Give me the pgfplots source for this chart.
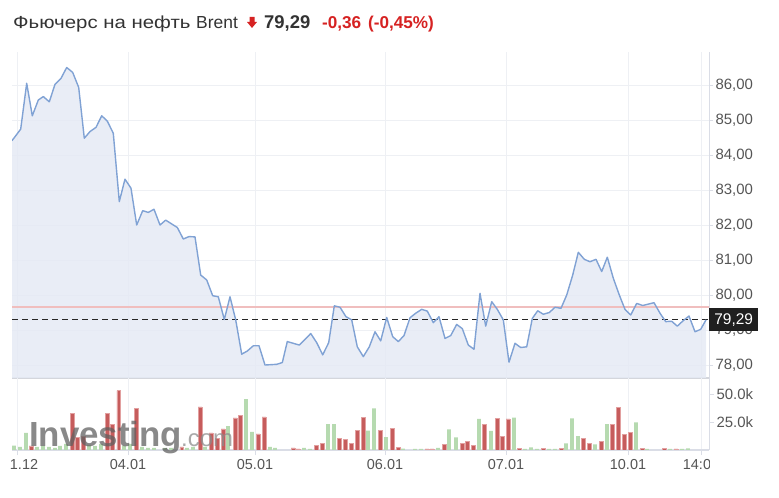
\documentclass[border=0pt]{standalone}
\usepackage{pgfplots}
\pgfplotsset{compat=1.18}
\usepackage{fontspec}
\setmainfont{Liberation Sans}

\definecolor{linec}{RGB}{128,162,212}
\definecolor{areac}{RGB}{229,234,245}
\definecolor{gridc}{RGB}{238,240,244}
\definecolor{axc}{RGB}{218,221,230}
\definecolor{bordc}{RGB}{212,214,220}
\definecolor{labc}{RGB}{85,85,85}
\definecolor{titlec}{RGB}{51,51,51}
\definecolor{redt}{RGB}{214,34,34}
\definecolor{prevc}{RGB}{240,190,190}
\definecolor{volred}{RGB}{198,92,92}
\definecolor{volredb}{RGB}{226,160,160}
\definecolor{volgreen}{RGB}{182,218,176}

\pgfplotstableread{
x y
12 84.41
20.7 84.74
26.7 86.05
32.3 85.12
38.3 85.57
43.3 85.67
49.3 85.52
55 86.02
61 86.19
66.7 86.50
72.7 86.36
78.7 85.93
84.3 84.48
90 84.67
96 84.79
101.7 85.12
107.3 84.97
113.3 84.62
119.3 82.67
125 83.31
131 83.05
136.7 82.00
142.7 82.41
148.3 82.36
154 82.45
160 82.00
165.7 82.14
171.7 82.03
177.3 81.93
183.3 81.60
189 81.67
195 81.66
200.7 80.57
206.7 80.43
212.7 79.98
218.3 79.95
224.3 79.30
230 79.95
235.7 79.29
241.7 78.31
247.3 78.40
253.3 78.55
259 78.55
265 78.00
271 78.01
276.7 78.02
282.3 78.07
287.3 78.67
293.3 78.62
299.3 78.57
305 78.73
310.7 78.90
316.7 78.64
322.7 78.29
328.7 78.64
334.3 79.69
340 79.65
346 79.38
351.7 79.29
357.3 78.52
363.3 78.24
369.3 78.52
375 78.95
380.7 78.69
386.7 79.36
392.7 78.81
398.3 78.67
404 78.84
410 79.35
415.7 79.48
421.7 79.59
427.3 79.54
433.3 79.21
439 79.38
445 78.76
450.7 78.84
456.7 79.16
462.3 79.04
468.3 78.57
474 78.45
480 80.05
485.7 79.11
491.7 79.81
497.3 79.59
503.3 79.29
509 78.08
515 78.62
520.7 78.50
526.7 78.52
532.3 79.33
537.7 79.55
543.3 79.45
549.3 79.50
555 79.65
561 79.62
566.7 80.00
572.7 80.57
578.3 81.22
584.3 81.02
590 80.95
596 81.02
601.7 80.67
607.3 81.08
613.3 80.48
619.3 80.00
625 79.59
630.7 79.43
636.7 79.76
642.7 79.70
648.3 79.74
654 79.78
660 79.48
665.7 79.24
671.7 79.25
677.3 79.11
683.3 79.27
689 79.40
695 78.95
700.7 79.02
706 79.29
}\price

\pgfplotstableread{
x v
14 3.8
20 2.7
26 15.2
37 2.7
43 3.6
49 2.7
55 1.8
60 3.6
66 5.4
89 4.5
95 3.6
101 5.4
124 3.6
130 5.4
142 2.7
148 1.8
154 1.8
165 1.8
171 1.8
187 1.8
193 2.7
205 2.7
228 21.4
246 45.5
252 16.1
270 2.7
275 1.8
304 1.8
310 0.9
328 23
334 23
368 17.2
374 37.2
386 11.6
403 1.3
415 0.9
421 0.9
438 1.8
449 18.5
456 11.3
479 27.7
491 17
514 28.8
525 0.9
531 2.4
537 0.9
549 0.9
555 0.9
566 6
572 28.3
578 12.5
595 5.1
607 23
636 24.7
647 0.9
670 0.9
682 0.9
688 1.5
}\volup

\pgfplotstableread{
x v
31 3.6
72 32.8
77 11.6
83 12.5
107 32.8
112.5 23
118.7 53
136 37.2
181.7 2.9
200 38.4
211 15.2
217 10.7
223 18.8
235 28.6
240 30.6
258 14.3
264 29.5
293 1.8
298 0.9
316 3.8
322 6
339 10.7
345 9.6
351 6
357 17.2
363 29.2
380 17.2
392 19.4
398 2.4
427 0.9
432 0.9
444 5.1
462 6
467 7.4
473 3.8
484 23
497 28.3
502 11.9
508 27.7
519 1.5
543 1.5
561 1.5
583 10.4
589 6
601 8
612 23
618 38.1
624 14
630 15.8
642 1.5
664 1.5
676 0.9
}\voldown

\begin{document}
\begin{tikzpicture}
\path[use as bounding box] (0bp,0bp) rectangle (779bp,498bp);

% title line (Cyrillic part widened to the reference's width)
\node[anchor=base west, inner sep=0, text=titlec] at (13bp,469bp)
  {\fontsize{17.5}{20}\selectfont\scalebox{1.17}[1]{Фьючерс на нефть\ }Brent};
\fill[redt] (249.5bp,481bp) -- (254.5bp,481bp) -- (254.5bp,476bp) -- (257bp,476bp)
  -- (252bp,470bp) -- (247bp,476bp) -- (249.5bp,476bp) -- cycle;
\node[anchor=base west, inner sep=0, text=titlec] at (264bp,469bp)
  {\fontsize{18.5}{20}\selectfont\bfseries 79,29};
\node[anchor=base west, inner sep=0, text=redt] at (322bp,469bp)
  {\fontsize{17.2}{20}\selectfont\bfseries -0,36};
\node[anchor=base west, inner sep=0, text=redt] at (368bp,469bp)
  {\fontsize{17.2}{20}\selectfont\bfseries (-0,45\%)};

\begin{scope}
\clip (10.5bp,0bp) rectangle (779bp,498bp);

% price panel
\begin{axis}[
  at={(12bp,120bp)}, anchor=south west,
  scale only axis, width=697bp, height=326bp,
  xmin=12, xmax=709, ymin=77.629, ymax=86.943,
  axis x line*=bottom, axis y line*=right,
  x axis line style={draw=bordc, line width=2.2bp},
  y axis line style={draw=axc, line width=1bp},
  xtick={17,128,255,385,506,628,701}, xticklabels={},
  xtick style={draw=none},
  ytick={78,79,80,81,82,83,84,85,86},
  yticklabels={{78,00},{79,00},{80,00},{81,00},{82,00},{83,00},{84,00},{85,00},{86,00}},
  ytick style={draw=axc, line width=0.8bp},
  tick align=outside, major tick length=4bp,
  yticklabel style={font=\fontsize{15}{18}\selectfont, text=labc, xshift=-1bp},
  xmajorgrids, ymajorgrids,
  grid style={draw=gridc, line width=0.8bp},
  clip mode=individual,
]
\addplot[draw=none, fill=areac, fill opacity=0.85] table[x=x, y=y] {\price} \closedcycle;
\addplot[prevc, line width=1.6bp] coordinates {(12,79.65) (709,79.65)};
\addplot[black!85, line width=1bp, dash pattern=on 6bp off 4bp] coordinates {(12,79.29) (709,79.29)};
\addplot[linec, line width=1.4bp, line join=round] table[x=x, y=y] {\price};
\node[anchor=west, fill=black!88, text=white, inner sep=0, minimum width=49bp,
  minimum height=23bp, font=\fontsize{15.5}{18}\selectfont] at (axis cs:709,79.29) {79,29};
\end{axis}

% volume panel
\begin{axis}[
  at={(12bp,48bp)}, anchor=south west,
  scale only axis, width=697bp, height=72bp,
  xmin=12, xmax=709, ymin=0, ymax=64.29,
  axis x line*=bottom, axis y line*=right,
  x axis line style={draw=axc, line width=1.2bp},
  y axis line style={draw=axc, line width=1bp},
  xtick={128,255,385,506,628,701},
  xticklabels={04.01,05.01,06.01,07.01,10.01,14:00},
  extra x ticks={17}, extra x tick labels={31.12},
  extra x tick style={xticklabel style={xshift=3bp}},
  ytick={25,50}, yticklabels={25.0k,50.0k},
  tick align=outside, major tick length=5bp,
  xtick style={draw=axc, line width=0.8bp},
  ytick style={draw=axc, line width=0.8bp},
  xticklabel style={font=\fontsize{14.5}{17}\selectfont, text=labc, yshift=-1bp},
  yticklabel style={font=\fontsize{15}{18}\selectfont, text=labc, xshift=-1bp},
  xmajorgrids, grid style={draw=gridc, line width=0.8bp},
]
\addplot[ybar, bar width=3.9, bar shift=0pt, fill=volgreen, draw=none] table[x=x, y=v] {\volup};
\addplot[ybar, bar width=3.9, bar shift=0pt, fill=volred, draw=volredb, line width=0.5bp] table[x=x, y=v] {\voldown};
\end{axis}

% watermark
\node[anchor=base west, inner sep=0, text=black!62, opacity=0.75] at (29bp,51bp)
  {\fontsize{35}{38}\selectfont\bfseries Investing};
\node[anchor=base west, inner sep=0, text=black!45, opacity=0.75] at (181bp,51bp)
  {\fontsize{24}{26}\selectfont .com};
\end{scope}

% cut the last time label at the axis edge
\fill[white] (709.8bp,10bp) rectangle (779bp,44bp);
\end{tikzpicture}
\end{document}
